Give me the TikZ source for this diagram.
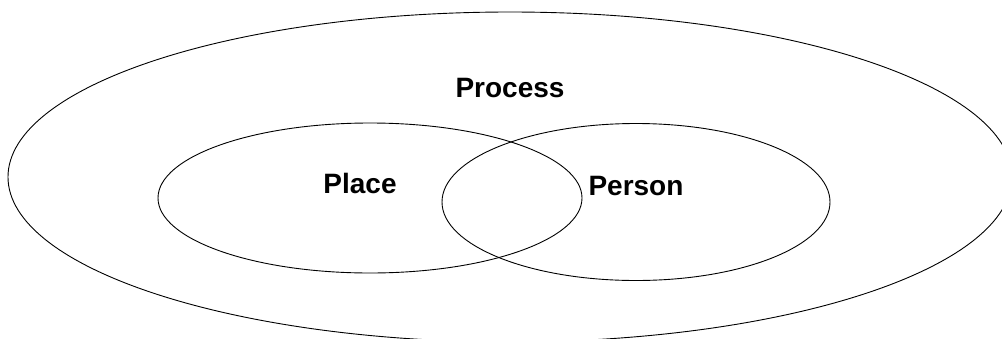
\documentclass[tikz,border=0pt]{standalone}
\usepackage{fontspec}
\setmainfont{Liberation Sans}
\begin{document}
\begin{tikzpicture}[x=1pt,y=-1pt,
  setshape/.style={draw=black,line width=0.9pt},
  setlabel/.style={font=\fontsize{28}{32}\selectfont\bfseries,inner sep=0pt,anchor=base}]
\useasboundingbox (0,0) rectangle (1002,338);
\begin{scope}
\clip (0,0) rectangle (1002,338);
\draw[setshape] (510,177) ellipse [x radius=502, y radius=165];
\end{scope}
\draw[setshape] (370,198) ellipse [x radius=212, y radius=75];
\draw[setshape] (636,202) ellipse [x radius=194, y radius=78.5];
\node[setlabel] (process) at (510,97.5) {Process};
\node[setlabel] (place) at (360,193) {Place};
\node[setlabel] (person) at (636,195.5) {Person};
\end{tikzpicture}
\end{document}
